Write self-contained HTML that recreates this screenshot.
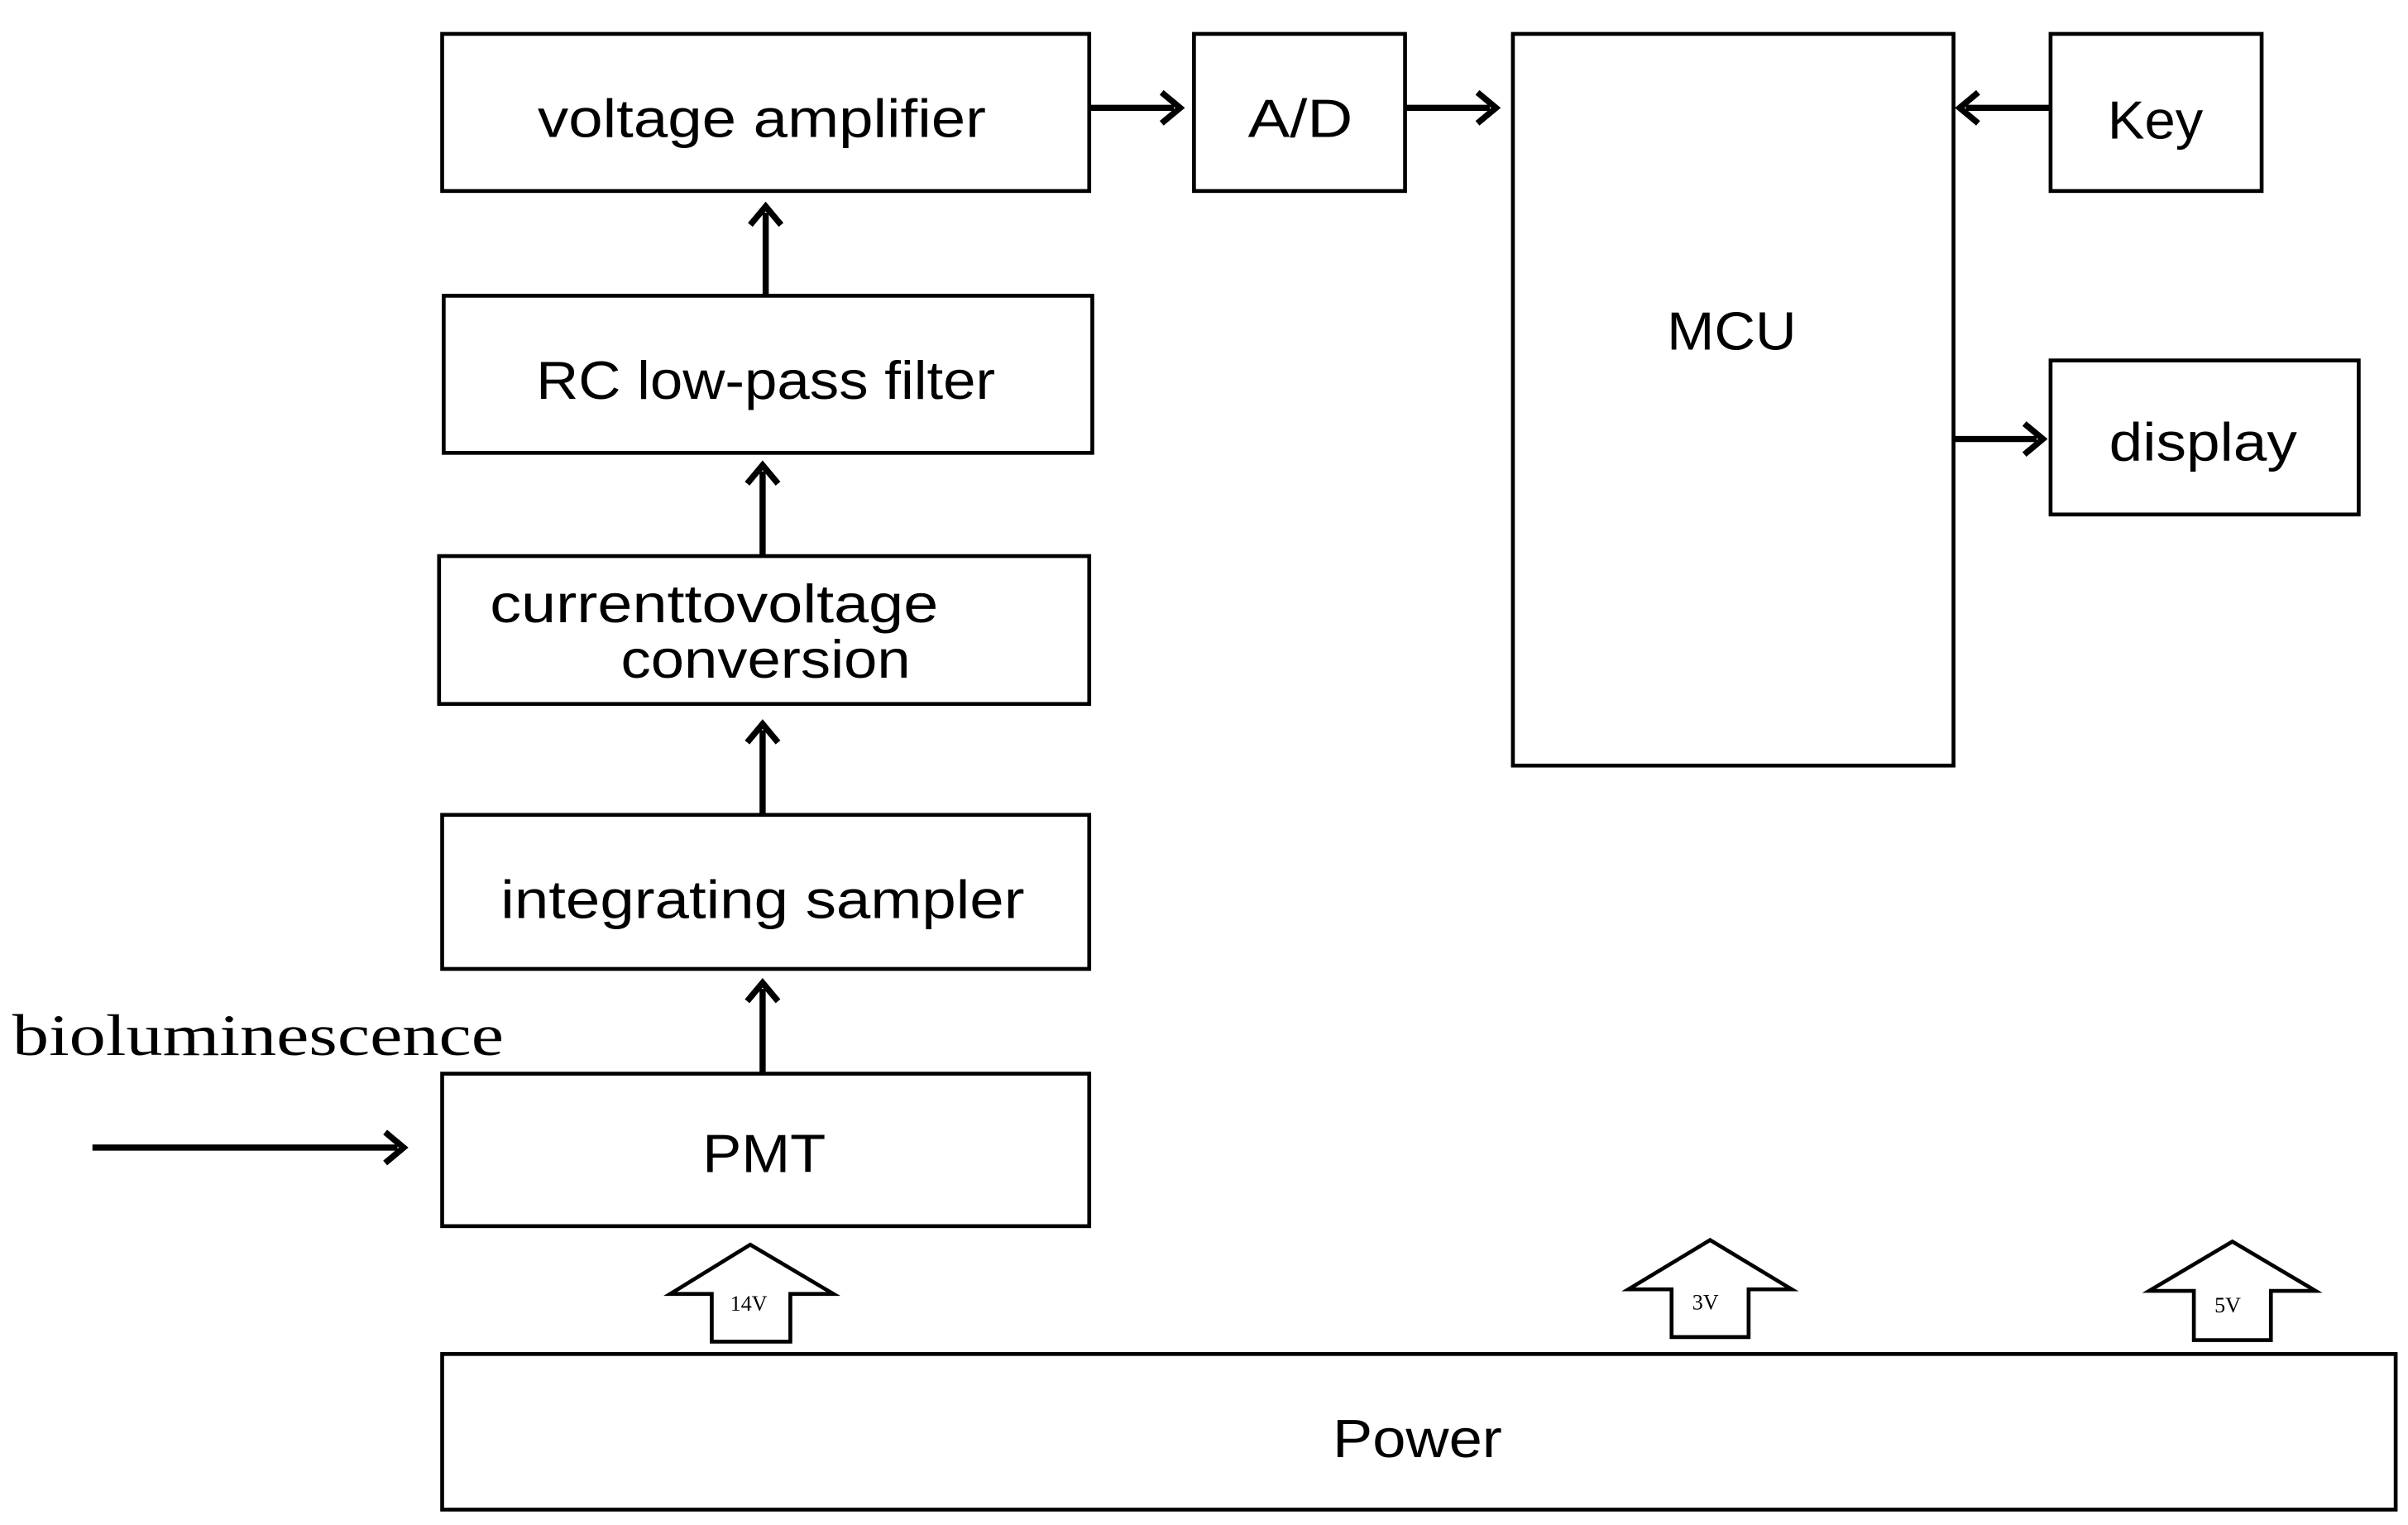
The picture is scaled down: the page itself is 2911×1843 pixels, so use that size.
<!DOCTYPE html>
<html><head><meta charset="utf-8"><style>html,body{margin:0;padding:0;background:#fff}svg{display:block}</style></head>
<body>
<svg width="2911" height="1843" viewBox="0 0 1563 990" preserveAspectRatio="none" xmlns="http://www.w3.org/2000/svg">
<g fill="#fff" stroke="#000" stroke-width="2.5">
<rect x="287" y="22" width="420" height="102"/>
<rect x="775" y="22" width="137" height="102"/>
<rect x="982" y="22" width="286" height="475"/>
<rect x="1331" y="22" width="137" height="102"/>
<rect x="1331" y="234" width="200" height="100"/>
<rect x="288" y="192" width="421" height="102"/>
<rect x="285" y="361" width="422" height="96"/>
<rect x="287" y="529" width="420" height="100"/>
<rect x="287" y="697" width="420" height="99"/>
<rect x="287" y="879" width="1268" height="101"/>
</g>
<g stroke="#000" stroke-width="4" fill="none">
<line x1="707" y1="70" x2="762" y2="70"/>
<line x1="912" y1="70" x2="967" y2="70"/>
<line x1="1331" y1="70" x2="1276" y2="70"/>
<line x1="1268" y1="285" x2="1322" y2="285"/>
<line x1="497" y1="192" x2="497" y2="138"/>
<line x1="495" y1="361" x2="495" y2="306"/>
<line x1="495" y1="529" x2="495" y2="474"/>
<line x1="495" y1="697" x2="495" y2="642"/>
<line x1="60" y1="745" x2="258" y2="745"/>
</g>
<g stroke="#000" stroke-width="4" fill="none">
<polyline points="754,60 766,70 754,80"/>
<polyline points="959,60 971,70 959,80"/>
<polyline points="1284,60 1272,70 1284,80"/>
<polyline points="1314,275 1326,285 1314,295"/>
<polyline points="487,146 497,134 507,146"/>
<polyline points="485,314 495,302 505,314"/>
<polyline points="485,482 495,470 505,482"/>
<polyline points="485,650 495,638 505,650"/>
<polyline points="250,735 262,745 250,755"/>
</g>
<g fill="#fff" stroke="#000" stroke-width="2.5">
<path d="M462,871 L462,840 L435,840 L487,808 L541,840 L513,840 L513,871 Z"/>
<path d="M1085,868 L1085,837 L1057,837 L1110,805 L1163,837 L1135,837 L1135,868 Z"/>
<path d="M1424,870 L1424,838 L1395,838 L1449,806 L1503,838 L1474,838 L1474,870 Z"/>
</g>
<g font-family="Liberation Sans, sans-serif" font-size="35" fill="#000" lengthAdjust="spacingAndGlyphs">
<text x="349" y="89" textLength="291" lengthAdjust="spacingAndGlyphs">voltage amplifier</text>
<text x="810" y="89" textLength="68" lengthAdjust="spacingAndGlyphs">A/D</text>
<text x="1082" y="227" textLength="84" lengthAdjust="spacingAndGlyphs">MCU</text>
<text x="1368" y="90" textLength="62" lengthAdjust="spacingAndGlyphs">Key</text>
<text x="1369" y="299" textLength="122" lengthAdjust="spacingAndGlyphs">display</text>
<text x="348" y="259" textLength="298" lengthAdjust="spacingAndGlyphs">RC low-pass filter</text>
<text x="318" y="404" textLength="291" lengthAdjust="spacingAndGlyphs">currenttovoltage</text>
<text x="403" y="440" textLength="188" lengthAdjust="spacingAndGlyphs">conversion</text>
<text x="325" y="596" textLength="340" lengthAdjust="spacingAndGlyphs">integrating sampler</text>
<text x="456" y="761" textLength="80" lengthAdjust="spacingAndGlyphs">PMT</text>
<text x="865" y="946" textLength="110" lengthAdjust="spacingAndGlyphs">Power</text>
</g>
<text x="8" y="685" font-family="Liberation Serif, serif" font-size="38" fill="#000" textLength="319" lengthAdjust="spacingAndGlyphs">bioluminescence</text>
<g font-family="Liberation Serif, serif" font-size="14" fill="#000" text-anchor="middle">
<text x="486" y="851">14V</text>
<text x="1107" y="850">3V</text>
<text x="1446" y="852">5V</text>
</g>
</svg>
</body></html>
